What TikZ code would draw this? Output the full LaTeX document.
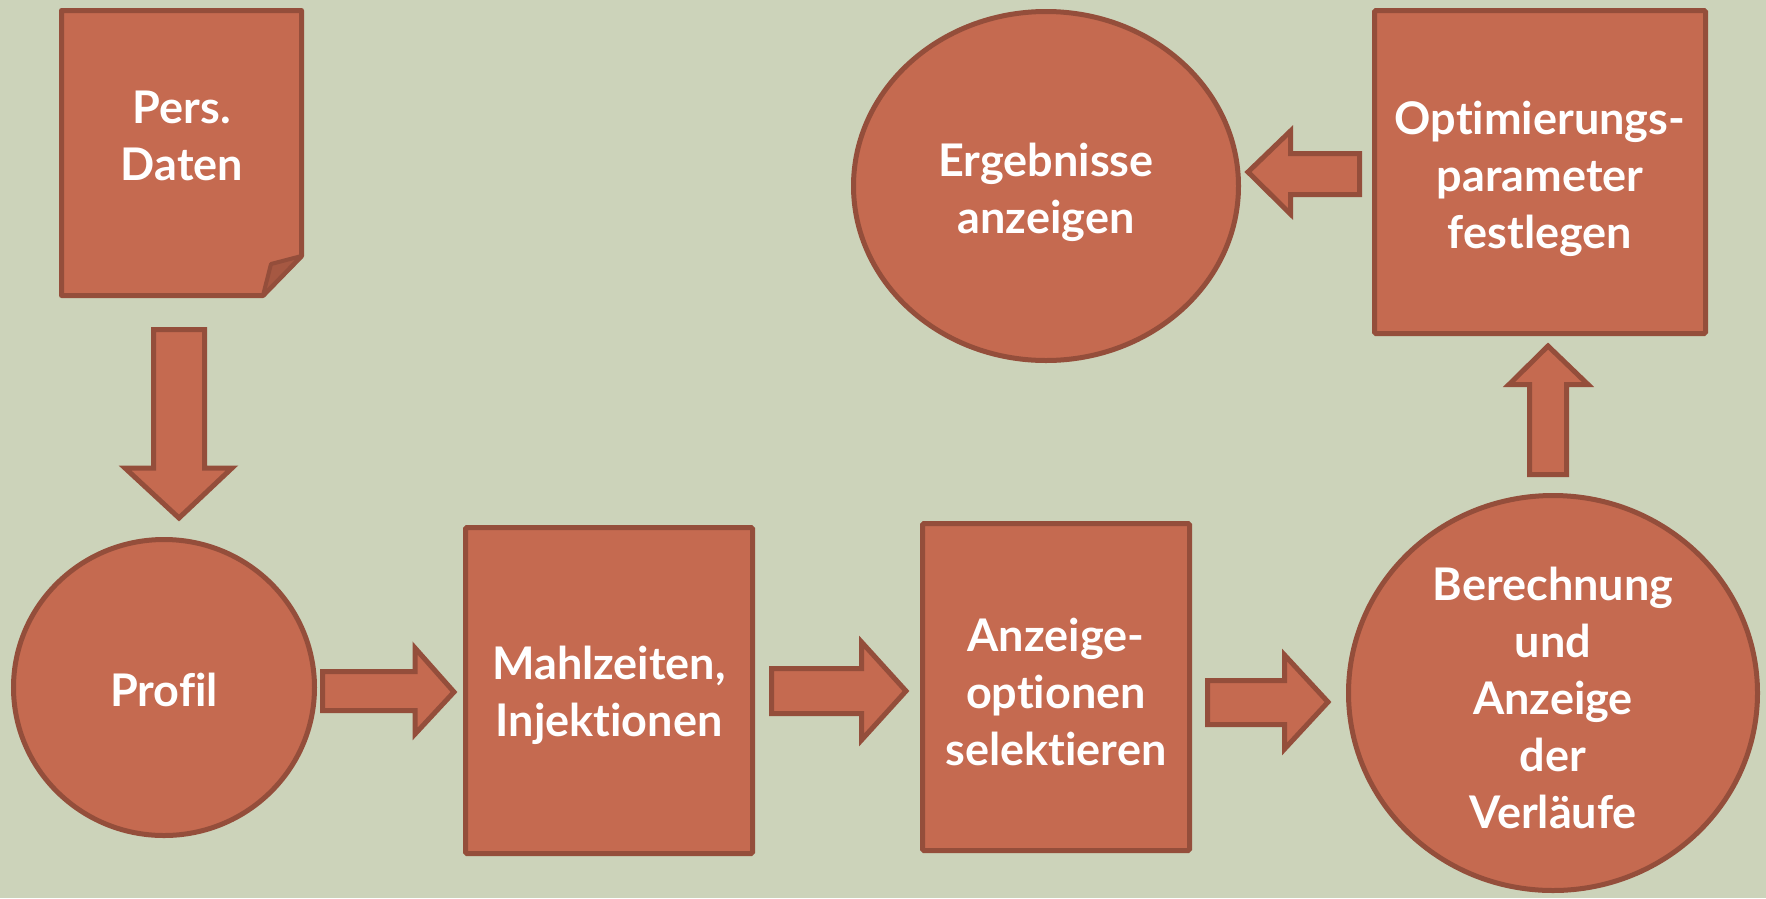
\documentclass[tikz,border=0pt]{standalone}
\usepackage{fontspec}
\setmainfont{Lato}[Ligatures={NoCommon,NoContextual}]
\usetikzlibrary{shapes.geometric}
\definecolor{bgc}{HTML}{CCD3BA}
\definecolor{fillc}{HTML}{C56A50}
\definecolor{linec}{HTML}{944E3B}
\definecolor{foldc}{HTML}{A65842}
\begin{document}
\begin{tikzpicture}[x=1pt,y=-1pt,
  txt/.style={text=white, font=\fontsize{45}{57}\selectfont\bfseries, align=center},
  shapebase/.style={draw=linec, fill=fillc, line width=5pt, inner sep=0pt},
  boxshape/.style={shapebase, rectangle, rounded corners=1.5pt},
  ellshape/.style={shapebase, ellipse},
  blockarrow/.style={draw=linec, fill=fillc, line width=5pt, line join=miter}]
\fill[bgc] (0,0) rectangle (1766,898);
\useasboundingbox (0,0) rectangle (1766,898);

% document shape
\node[inner sep=0pt, minimum width=240, minimum height=285] (pers) at (181.5,153) {};
\filldraw[blockarrow, line join=round] (61.5,10.5) -- (301.5,10.5) -- (301.5,256) -- (263,295.5) -- (61.5,295.5) -- cycle;
\filldraw[draw=linec, fill=foldc, line width=4pt, line join=round] (301.5,256) -- (271,264) -- (263,295.5) -- cycle;
\node[txt] (perst) at (182,136) {Pers.\\Daten};

% shapes
\node[ellshape, minimum width=301, minimum height=296] (profil) at (164,687.5) {};
\node[boxshape, minimum width=287, minimum height=326] (mahl) at (609,690.5) {};
\node[boxshape, minimum width=267, minimum height=327] (anz) at (1056,687) {};
\node[ellshape, minimum width=409, minimum height=395] (ber) at (1553,693) {};
\node[ellshape, minimum width=385, minimum height=349] (erg) at (1046,186) {};
\node[boxshape, minimum width=331, minimum height=323] (opt) at (1540,172) {};

% texts
\node[txt, yshift=-2pt] (profilt) at (profil.center) {Profil};
\node[txt, yshift=-5pt] (mahlt) at (mahl.center) {Mahlzeiten,\\Injektionen};
\node[txt, yshift=-5pt] (anzt) at (anz.center) {Anzeige-\\optionen\\selektieren};
\node[txt, yshift=-5pt] (bert) at (ber.center) {Berechnung\\und\\Anzeige\\der\\Verläufe};
\node[txt, yshift=-6pt] (ergt) at (erg.center) {Ergebnisse\\anzeigen};
\node[txt, yshift=-7pt] (optt) at (opt.center) {Optimierungs-\\parameter\\festlegen};

% block arrows
\filldraw[blockarrow] (153.5,329.5) -- (204.5,329.5) -- (204.5,468) -- (232,468) -- (179,518) -- (125,468) -- (153.5,468) -- cycle;
\filldraw[blockarrow] (322.5,671.5) -- (415,671.5) -- (415,648) -- (454,692) -- (415,734) -- (415,710.5) -- (322.5,710.5) -- cycle;
\filldraw[blockarrow] (771.5,668.5) -- (861.5,668.5) -- (861.5,642) -- (906,691) -- (861.5,740) -- (861.5,713.5) -- (771.5,713.5) -- cycle;
\filldraw[blockarrow] (1207.5,680.5) -- (1284.5,680.5) -- (1284.5,655) -- (1328,702) -- (1284.5,749) -- (1284.5,724.5) -- (1207.5,724.5) -- cycle;
\filldraw[blockarrow] (1529.5,474.5) -- (1529.5,384.5) -- (1509,384.5) -- (1548,346) -- (1588,384.5) -- (1566.5,384.5) -- (1566.5,474.5) -- cycle;
\filldraw[blockarrow] (1359.5,153.5) -- (1290.5,153.5) -- (1290.5,131) -- (1248,172) -- (1290.5,214) -- (1290.5,194.5) -- (1359.5,194.5) -- cycle;
\end{tikzpicture}
\end{document}
